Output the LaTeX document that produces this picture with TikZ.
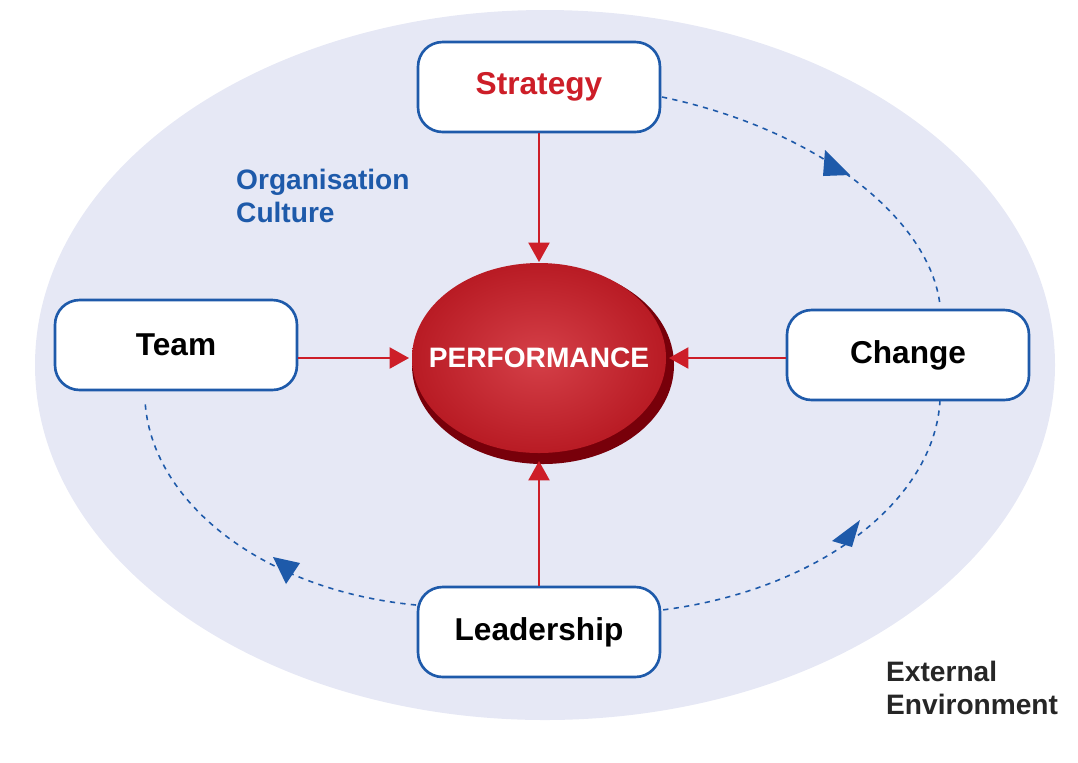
\documentclass[tikz,border=0pt]{standalone}
\usepackage{fontspec}
\setmainfont{Liberation Sans}
\usetikzlibrary{arrows.meta}
\usetikzlibrary{positioning}
\definecolor{envfill}{RGB}{230,232,245}
\definecolor{boxblue}{RGB}{30,90,170}
\definecolor{perfred}{RGB}{205,30,40}
\definecolor{darkred}{RGB}{120,0,10}
\tikzset{factor/.style = {draw=boxblue, line width=1.5pt, fill=white, rounded corners=14pt,
                          minimum width=4.84cm, minimum height=1.8cm,
                          font=\fontsize{18}{20}\selectfont\bfseries},
         push/.style = {draw=perfred, line width=1pt, -{Triangle[length=11pt,width=12pt]}},
         cycle/.style = {draw=boxblue, dashed, line width=0.9pt},
         tip/.style = {fill=boxblue, draw=none},
         note/.style = {align=left, anchor=north west, font=\fontsize{16}{19}\selectfont\bfseries}}
\begin{document}
\begin{tikzpicture}[x=0.02cm, y=-0.02cm]
     \useasboundingbox (0, 0) rectangle (1078, 762);
     \fill [envfill] (545, 365) ellipse [x radius=510, y radius=355];
     \fill [darkred] (543, 365) ellipse [x radius=131, y radius=99];
     \shade [inner color=perfred!85!white, outer color=perfred!90!black] (539, 358) ellipse [x radius=127, y radius=95];
     \node [text=white, font=\fontsize{16}{18}\selectfont\bfseries] (perf) at (539, 358) {PERFORMANCE};
     \node [factor, text=perfred] (strategy) at (539, 87) {Strategy};
     \node [factor] (team) at (176, 345) {Team};
     \node [factor] (change) at (908, 355) {Change};
     \node [factor] (leader) at (539, 632) {Leadership};
     \draw [push] (strategy) -- (539, 262);
     \draw [push] (team.east |- perf) -- (409, 358);
     \draw [push] (change.west |- perf) -- (669, 358);
     \draw [push] (leader) -- (539, 461);
     \draw [cycle] (662, 97) .. controls (820, 130) and (930, 220) .. (940, 305);
     \draw [cycle] (940, 400) .. controls (935, 500) and (820, 590) .. (662, 610);
     \draw [cycle] (416, 605) .. controls (260, 590) and (150, 500) .. (145, 400);
     \fill [tip] (825, 150) -- (850, 175) -- (823, 176) -- cycle;
     \fill [tip] (860, 520) -- (852, 547) -- (832, 541) -- cycle;
     \fill [tip] (273, 557) -- (300, 563) -- (286, 584) -- cycle;
     \node [note, text=boxblue] (culture) at (230, 163) {Organisation\\Culture};
     \node [note, text=black!85] (env) at (880, 655) {External\\Environment};
\end{tikzpicture}
\end{document}
